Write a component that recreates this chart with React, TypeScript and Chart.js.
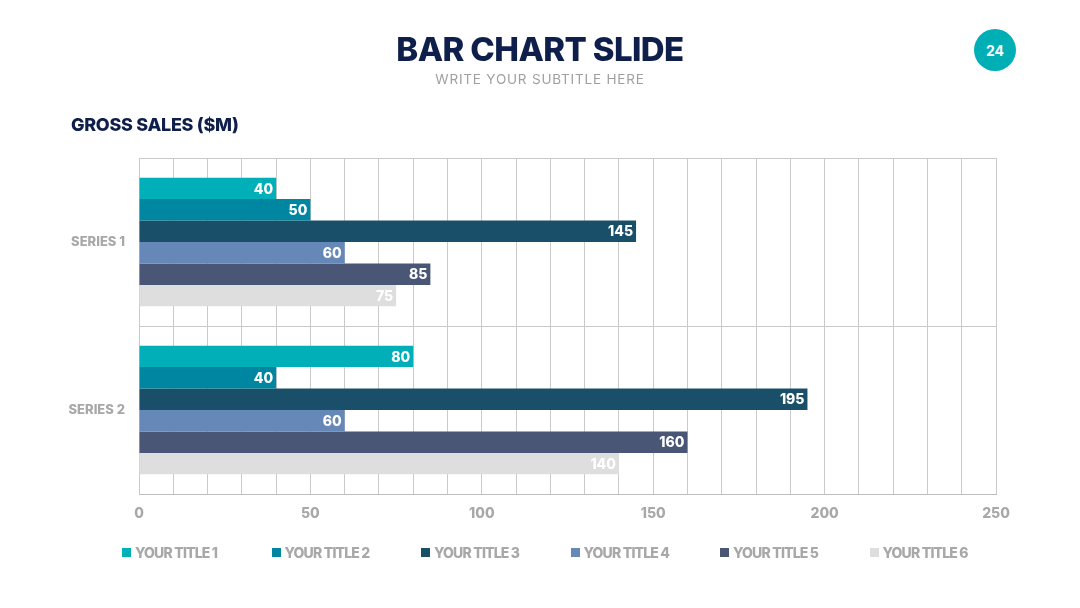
import React, { useEffect, useRef } from "react";
import { Chart, registerables } from "chart.js";

Chart.register(...registerables);

const categories = ["SERIES 1", "SERIES 2"];
const seriesNames = ["YOUR TITLE 1", "YOUR TITLE 2", "YOUR TITLE 3", "YOUR TITLE 4", "YOUR TITLE 5", "YOUR TITLE 6"];
const title1 = [40, 80];
const title2 = [50, 40];
const title3 = [145, 195];
const title4 = [60, 60];
const title5 = [85, 160];
const title6 = [75, 140];
const seriesValues = [title1, title2, title3, title4, title5, title6];
const seriesColors = ["#00AFB7", "#0086A1", "#1A4F6A", "#6688B8", "#4A5675", "#DEDEDE"];
const xMin = 0;
const xMax = 250;
const xStep = 10;
const xLabelStep = 50;

const FONT = "Inter, 'Open Sans', sans-serif";
const GREY = "#A8A8A8";
const NAVY = "#0F1F4B";

const barLabels = {
  id: "barLabels",
  afterDatasetsDraw(chart: any) {
    const ctx = chart.ctx;
    ctx.save();
    ctx.font = `800 14px ${FONT}`;
    ctx.fillStyle = "#FFFFFF";
    ctx.textAlign = "right";
    ctx.textBaseline = "middle";
    chart.data.datasets.forEach((ds: any, di: number) => {
      const meta = chart.getDatasetMeta(di);
      meta.data.forEach((el: any, i: number) => {
        ctx.fillText(String(ds.data[i]), el.x - 3, el.y + 1);
      });
    });
    ctx.restore();
  },
};

export default function App() {
  const ref = useRef<HTMLCanvasElement>(null);
  useEffect(() => {
    if (!ref.current) return;
    const chart = new Chart(ref.current, {
      type: "bar",
      data: {
        labels: categories,
        datasets: seriesNames.map((name, i) => ({
          label: name,
          data: seriesValues[i],
          backgroundColor: seriesColors[i],
          borderWidth: 0,
          categoryPercentage: 0.766,
          barPercentage: 1.0,
        })),
      },
      options: {
        indexAxis: "y",
        animation: false,
        responsive: false,
        layout: { padding: { top: 158, right: 84, bottom: 84, left: 0 } },
        plugins: { legend: { display: false }, tooltip: { enabled: false } },
        scales: {
          x: {
            min: xMin,
            max: xMax,
            ticks: {
              stepSize: xStep,
              padding: 11,
              color: GREY,
              font: { family: FONT, size: 14, weight: "800" },
              autoSkip: false,
              maxRotation: 0,
              callback: (v: any) => (Number(v) % xLabelStep === 0 ? String(v) : ""),
            },
            grid: { color: "#CACACA", lineWidth: 1, drawTicks: false },
            border: { color: "#BDBDBD", width: 1 },
            afterFit: (s: any) => {
              s.height = 30;
            },
          },
          y: {
            ticks: {
              padding: 14,
              color: GREY,
              font: { family: FONT, size: 13, weight: "800" },
            },
            grid: { color: "#CACACA", lineWidth: 1, drawTicks: false, offset: true },
            border: { color: "#CACACA", width: 1 },
            afterFit: (s: any) => {
              s.width = 139;
            },
          },
        },
      },
      plugins: [barLabels],
    });
    return () => chart.destroy();
  }, []);

  return (
    <div style={{ position: "absolute", left: 0, top: 0, width: 1080, height: 608, background: "#fff", fontFamily: FONT, overflow: "hidden" }}>
      <canvas ref={ref} width={1080} height={608} style={{ position: "absolute", left: 0, top: 0 }} />
      <div style={{ position: "absolute", left: 0, width: 1080, top: 27, textAlign: "center", fontSize: 33, fontWeight: 800, color: NAVY, letterSpacing: -0.6, lineHeight: "44px" }}>
        BAR CHART SLIDE
      </div>
      <div style={{ position: "absolute", left: 0, width: 1080, top: 70, textAlign: "center", fontSize: 13.5, fontWeight: 400, color: "#A0A0A0", letterSpacing: 0.8, lineHeight: "18px" }}>
        WRITE YOUR SUBTITLE HERE
      </div>
      <div style={{ position: "absolute", left: 974, top: 29, width: 42, height: 42, borderRadius: 21, background: "#00AFB5", color: "#fff", fontSize: 14, fontWeight: 700, display: "flex", alignItems: "center", justifyContent: "center" }}>
        24
      </div>
      <div style={{ position: "absolute", left: 71, top: 113, fontSize: 18, fontWeight: 800, color: NAVY, letterSpacing: -0.3, lineHeight: "24px" }}>
        GROSS SALES ($M)
      </div>
      {seriesNames.map((name, i) => (
        <div key={name} style={{ position: "absolute", left: 122 + i * 149.5, top: 543, height: 18, display: "flex", alignItems: "center", whiteSpace: "nowrap" }}>
          <span style={{ display: "inline-block", width: 9, height: 9, background: seriesColors[i], marginRight: 4 }} />
          <span style={{ fontSize: 14, fontWeight: 800, color: GREY, letterSpacing: -0.8 }}>{name}</span>
        </div>
      ))}
    </div>
  );
}
